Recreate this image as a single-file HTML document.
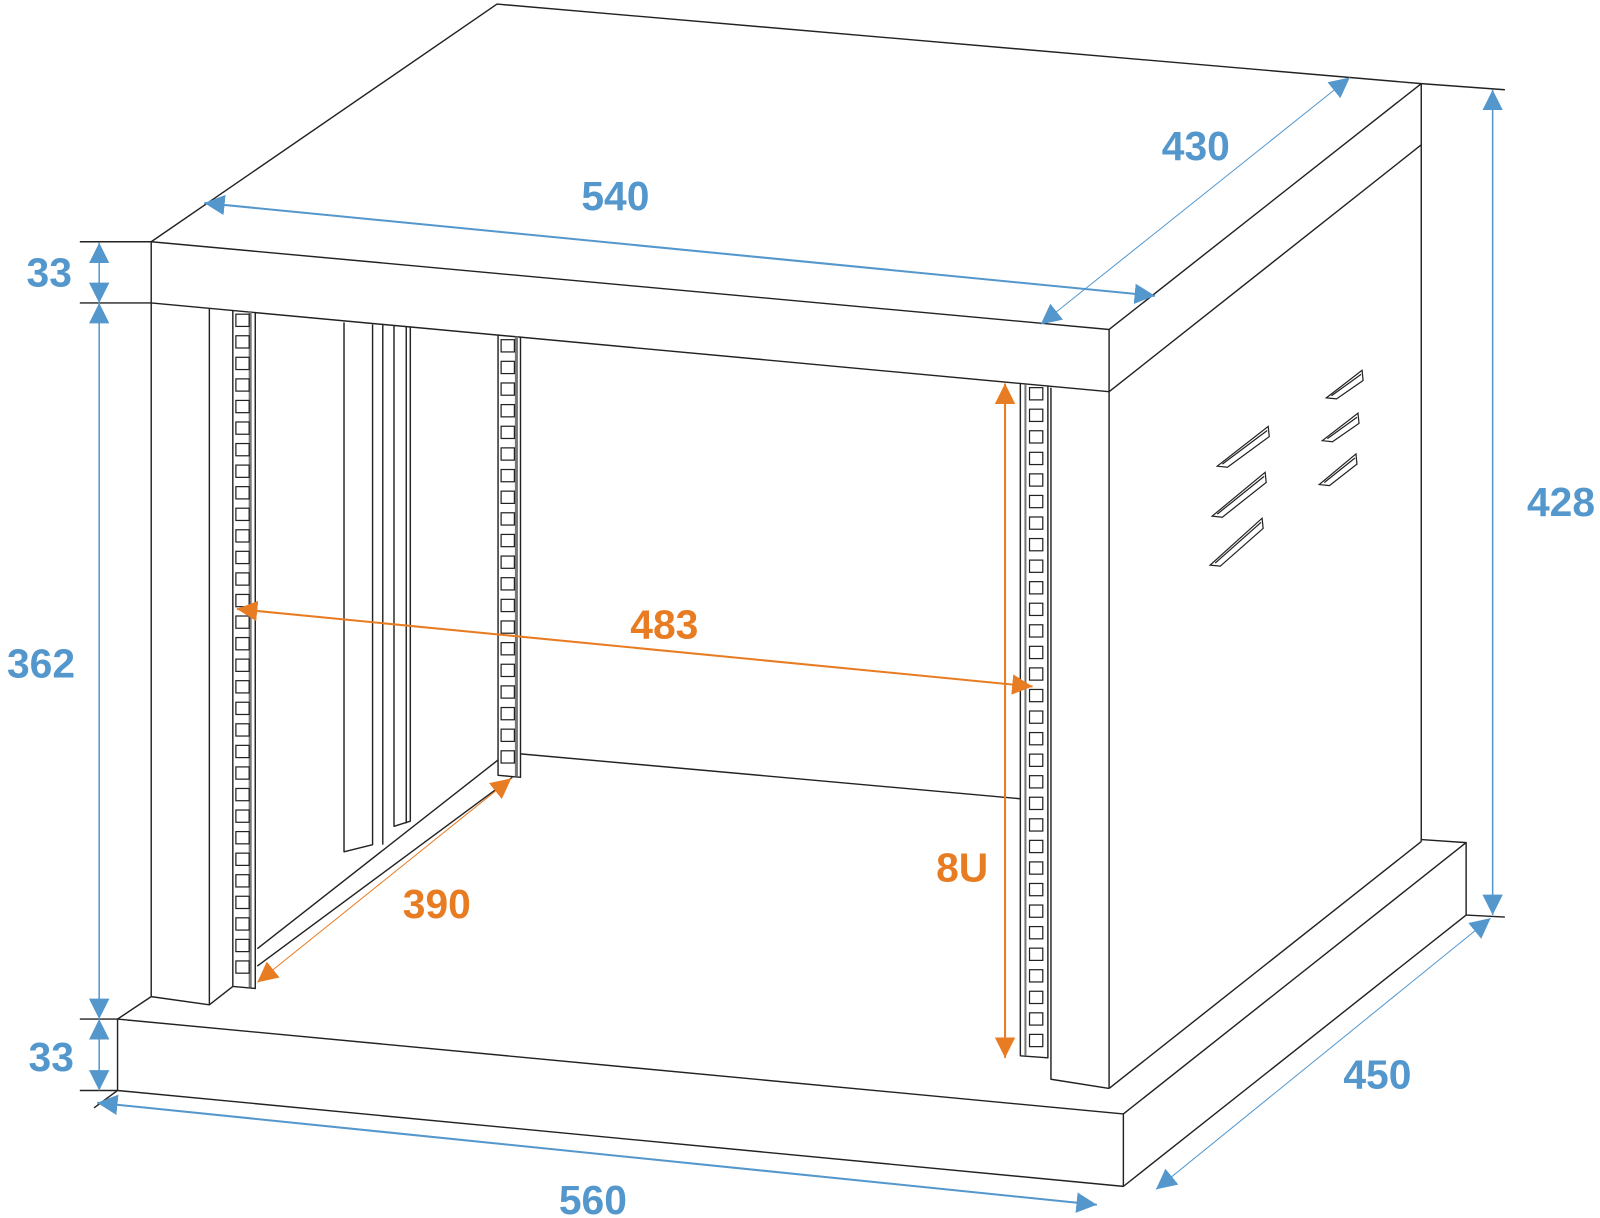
<!DOCTYPE html>
<html><head><meta charset="utf-8"><style>
html,body{margin:0;padding:0;background:#fff;width:1600px;height:1218px;overflow:hidden}
svg{display:block}
text{font-family:"Liberation Sans",sans-serif;font-weight:bold;font-size:40px;text-anchor:middle}
</style></head><body>
<svg id="s" width="1600" height="1218" viewBox="0 0 1568 1194" xmlns="http://www.w3.org/2000/svg">
<defs>
<marker id="bA" viewBox="0 0 10 10" refX="10" refY="5" markerWidth="6" markerHeight="6" markerUnits="userSpaceOnUse" orient="auto-start-reverse"><path d="M0,0L10,5L0,10z" fill="#5497cc"/></marker>
<marker id="bB" viewBox="0 0 10 10" refX="10" refY="5" markerWidth="20" markerHeight="20" markerUnits="userSpaceOnUse" orient="auto-start-reverse"><path d="M0,0L10,5L0,10z" fill="#5497cc"/></marker>
<marker id="oB" viewBox="0 0 10 10" refX="10" refY="5" markerWidth="20" markerHeight="20" markerUnits="userSpaceOnUse" orient="auto-start-reverse"><path d="M0,0L10,5L0,10z" fill="#e87c22"/></marker>
</defs>
<g fill="none" stroke="#222" stroke-width="1.4" stroke-linejoin="round">
<!-- top slab -->
<path d="M148,237L487,4L1393,82L1087,323L148,237Z"/>
<path d="M148,237L148,297L1087,384L1087,323"/>
<path d="M1087,384L1393,142L1393,82"/>
<!-- right side body -->
<path d="M1087,384L1087,1067"/>
<path d="M1393,142L1393,825"/>
<path d="M1087,1067L1393,825"/>
<!-- base -->
<path d="M115,999L1101,1092L1101,1163L115,1069Z"/>
<path d="M1101,1092L1437,826L1437,897L1101,1163"/>
<path d="M1393,823L1437,826"/>
<path d="M115,999L148,977"/>
<path d="M115,1069L92,1086"/>
<!-- left pillar -->
<path d="M148,297L148,977L205,985L205,302"/>
<path d="M205,985L228,967"/>
<path d="M228,304L228,967L250,969L250,306"/>
<path d="M245,305L245,968" stroke="#777" stroke-width="3"/>
<!-- panels -->
<path d="M337,316L337,835L365,828L365,318"/>
<path d="M375,318L375,828"/>
<path d="M386,319L386,810L402,805L402,320"/>
<path d="M398,320L398,807"/>
<!-- back rail -->
<path d="M488,328L488,760L510,762L510,330"/>
<path d="M506,330L506,761" stroke="#777" stroke-width="3"/>
<path d="M252,930L488,745"/>
<path d="M252,947L502,762"/>
<path d="M510,739L1000,783"/>
<!-- right front rail / pillar -->
<path d="M1000,376L1000,1035L1027,1037L1027,378"/>
<path d="M1005,377L1005,1035" stroke="#777" stroke-width="2"/>
<path d="M1030,380L1030,1058L1087,1067"/>
<!-- extension lines -->
<path d="M78,237L148,237M78,297L148,297M78,999L115,999M78,1069L115,1069M1393,82L1475,88M1437,897L1475,899"/>
</g>
<g id="holes" fill="none" stroke="#222" stroke-width="1.2"></g>
<g id="vents" fill="none" stroke="#222" stroke-width="1.2"></g>
<g fill="none">
<line x1="97" y1="238" x2="97" y2="297" stroke="#5497cc" stroke-width="1.5" marker-start="url(#bB)" marker-end="url(#bB)"/>
<line x1="97" y1="297" x2="97" y2="999" stroke="#5497cc" stroke-width="1.5" marker-start="url(#bB)" marker-end="url(#bB)"/>
<line x1="97" y1="999" x2="97" y2="1069" stroke="#5497cc" stroke-width="1.5" marker-start="url(#bB)" marker-end="url(#bB)"/>
<line x1="200" y1="199" x2="1132" y2="290" stroke="#5497cc" stroke-width="2" marker-start="url(#bB)" marker-end="url(#bB)"/>
<line x1="1020" y1="318" x2="1323" y2="76" stroke="#5497cc" stroke-width="1" marker-start="url(#bB)" marker-end="url(#bB)"/>
<line x1="1463" y1="88" x2="1463" y2="897" stroke="#5497cc" stroke-width="1.5" marker-start="url(#bB)" marker-end="url(#bB)"/>
<line x1="1133" y1="1166" x2="1461" y2="900" stroke="#5497cc" stroke-width="1" marker-start="url(#bB)" marker-end="url(#bB)"/>
<line x1="95" y1="1081" x2="1075" y2="1181" stroke="#5497cc" stroke-width="2" marker-start="url(#bB)" marker-end="url(#bB)"/>
<line x1="232" y1="597" x2="1012" y2="673" stroke="#e87c22" stroke-width="2" marker-start="url(#oB)" marker-end="url(#oB)"/>
<line x1="252" y1="963" x2="501" y2="763" stroke="#e87c22" stroke-width="1" marker-start="url(#oB)" marker-end="url(#oB)"/>
<line x1="985" y1="376" x2="985" y2="1037" stroke="#e87c22" stroke-width="2" marker-start="url(#oB)" marker-end="url(#oB)"/>
</g>
<g fill="#5497cc">
<text x="48" y="281">33</text>
<text x="40" y="664">362</text>
<text x="50" y="1050">33</text>
<text x="603" y="206">540</text>
<text x="1172" y="157">430</text>
<text x="1530" y="506">428</text>
<text x="1350" y="1067">450</text>
<text x="581" y="1190">560</text>
</g>
<g fill="#e87c22">
<text x="651" y="626">483</text>
<text x="428" y="900">390</text>
<text x="943" y="864">8U</text>
</g>
</svg>
<script>
var NS="http://www.w3.org/2000/svg",h=document.getElementById("holes"),v=document.getElementById("vents");
function holes(x,y0,y1,n){var st=(y1-y0)/(n-1);for(var i=0;i<n;i++){var r=document.createElementNS(NS,"rect");r.setAttribute("x",x);r.setAttribute("y",y0+i*st);r.setAttribute("width",13);r.setAttribute("height",12);h.appendChild(r);}}
holes(231,308,942,31);holes(491,333,736,20);holes(1009,380,1014,31);
function vent(x1,y1,x2,y2){var p=document.createElementNS(NS,"path");
p.setAttribute("d","M"+x1+","+y1+"L"+(x1+10)+","+(y1+1)+"L"+(x2+1)+","+(y2+10)+"L"+x2+","+y2+"Z M"+(x1+5)+","+(y1-2)+"L"+(x2-1)+","+(y2+4));v.appendChild(p);}
vent(1193,457,1243,418);vent(1188,506,1240,463);vent(1186,554,1237,508);
vent(1300,390,1335,363);vent(1296,432,1331,405);vent(1293,475,1329,445);
</script>
</body></html>
